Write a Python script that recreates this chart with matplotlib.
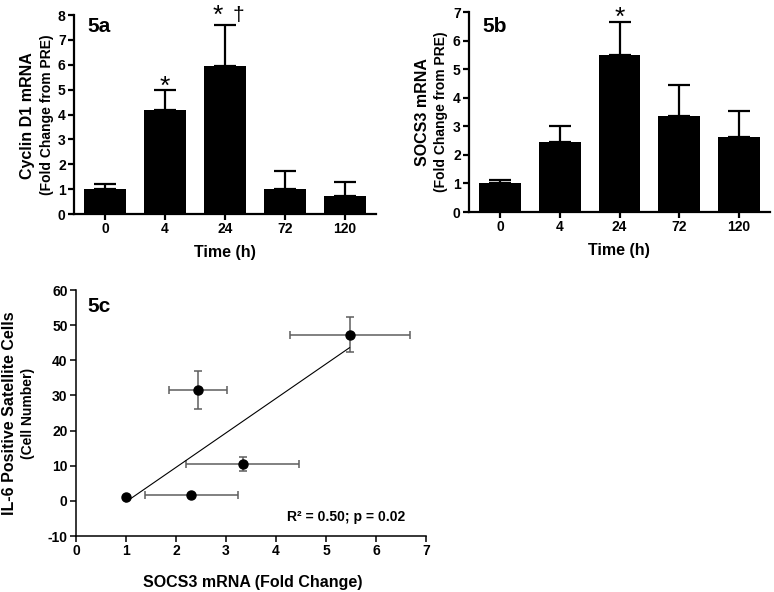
import numpy as np
import matplotlib
matplotlib.use('Agg')
import matplotlib.pyplot as plt

# data
times = ['0', '4', '24', '72', '120']
cyclin_mean = [1.02, 4.2, 5.93, 1.01, 0.74]
cyclin_err = [0.18, 0.8, 1.67, 0.73, 0.56]
socs3_mean = [1.03, 2.46, 5.5, 3.36, 2.62]
socs3_err = [0.09, 0.55, 1.16, 1.09, 0.9]

socs3_x = [1.0, 2.3, 3.33, 2.43, 5.47]
socs3_xerr = [0.0, 0.93, 1.13, 0.58, 1.2]
il6_y = [1.0, 1.8, 10.5, 31.5, 47.3]
il6_yerr = [0.0, 0.0, 2.0, 5.5, 4.9]

W, H = 774, 592
plt.rcParams['font.family'] = ['Liberation Sans', 'DejaVu Sans']
plt.rcParams['font.weight'] = 'bold'

fig = plt.figure(figsize=(W / 100, H / 100), dpi=100)


def px_axes(x0, y0, x1, y1):
    # pixel box (left, top, right, bottom) -> axes
    return fig.add_axes([x0 / W, 1 - y1 / H, (x1 - x0) / W, (y1 - y0) / H])


def ptext(x, y, s, **kw):
    fig.text(x / W, 1 - y / H, s, ha='center', va='center', **kw)


def style_axes(ax, lw):
    for side in ['top', 'right']:
        ax.spines[side].set_visible(False)
    for side in ['left', 'bottom']:
        ax.spines[side].set_linewidth(lw)
    ax.tick_params(width=lw, length=4, labelsize=10, pad=2)
    plt.setp(ax.get_xticklabels(), fontweight='bold')
    plt.setp(ax.get_yticklabels(), fontweight='bold')


def bar_panel(ax, means, errs, ymax):
    pos = np.arange(len(times))
    ax.bar(pos, means, width=0.7, color='black', zorder=2)
    ax.errorbar(pos, means, yerr=[np.zeros(len(errs)), errs], fmt='none',
                ecolor='black', elinewidth=1.6, capsize=8, capthick=1.6, zorder=1)
    ax.set_xticks(pos)
    ax.set_xticklabels(times)
    ax.set_xlim(-0.52, 4.52)
    ax.set_ylim(0, ymax)
    ax.set_yticks(range(0, ymax + 1))
    ax.set_yticklabels([str(v) for v in range(0, ymax + 1)])
    style_axes(ax, 1.6)


# 5a
ax1 = px_axes(74, 15, 376, 214)
bar_panel(ax1, cyclin_mean, cyclin_err, 8)
ax1.text(0.045, 0.94, '5a', transform=ax1.transAxes, fontsize=15, fontweight='bold', va='center')
ax1.text(1, 5.1, '*', ha='center', va='center', fontsize=19, fontweight='normal')
ax1.text(1.88, 7.95, '*', ha='center', va='center', fontsize=19, fontweight='normal')
ax1.text(2.23, 8.0, '†', ha='center', va='center', fontsize=15, fontweight='normal')
ptext(28, 116, 'Cyclin D1 mRNA', rotation=90, fontsize=11.5, fontweight='bold')
ptext(47, 115, '(Fold Change from PRE)', rotation=90, fontsize=10, fontweight='bold')
ptext(225, 253, 'Time (h)', fontsize=11.5, fontweight='bold')

# 5b
ax2 = px_axes(469, 12, 770, 212)
bar_panel(ax2, socs3_mean, socs3_err, 7)
ax2.text(0.043, 0.925, '5b', transform=ax2.transAxes, fontsize=15, fontweight='bold', va='center')
ax2.text(2, 6.79, '*', ha='center', va='center', fontsize=19, fontweight='normal')
ptext(422, 112, 'SOCS3 mRNA', rotation=90, fontsize=11.5, fontweight='bold')
ptext(441, 112, '(Fold Change from PRE)', rotation=90, fontsize=10, fontweight='bold')
ptext(619, 250, 'Time (h)', fontsize=11.5, fontweight='bold')

# 5c
ax3 = px_axes(76, 290, 426, 536)
ax3.errorbar(socs3_x, il6_y, xerr=socs3_xerr, yerr=il6_yerr, fmt='none',
             ecolor='#5e5e5e', elinewidth=1.1, capsize=3, capthick=1.1, zorder=1)
slope, intercept = np.polyfit(socs3_x, il6_y, 1)
fit_x = np.array([min(socs3_x), max(socs3_x)])
ax3.plot(fit_x, slope * fit_x + intercept, color='black', lw=0.8, zorder=2)
ax3.plot(socs3_x, il6_y, 'o', color='black', markersize=6.5, zorder=3)
ax3.set_xlim(0, 7)
ax3.set_ylim(-10, 60)
ax3.set_xticks(range(0, 8))
ax3.set_xticklabels([str(v) for v in range(0, 8)])
ax3.set_yticks(range(-10, 61, 10))
ax3.set_yticklabels([str(v) for v in range(-10, 61, 10)])
style_axes(ax3, 1.1)
ax3.text(0.22, 55.2, '5c', fontsize=15, fontweight='bold', va='center')
ax3.text(4.22, -4.6, 'R² = 0.50; p = 0.02', fontsize=10, fontweight='bold', va='center')
ptext(10, 413, 'IL-6 Positive Satellite Cells', rotation=90, fontsize=11.5, fontweight='bold')
ptext(28, 413, '(Cell Number)', rotation=90, fontsize=10, fontweight='bold')
ptext(253, 582, 'SOCS3 mRNA (Fold Change)', fontsize=11.5, fontweight='bold')

fig.savefig('out.png', dpi=100)
